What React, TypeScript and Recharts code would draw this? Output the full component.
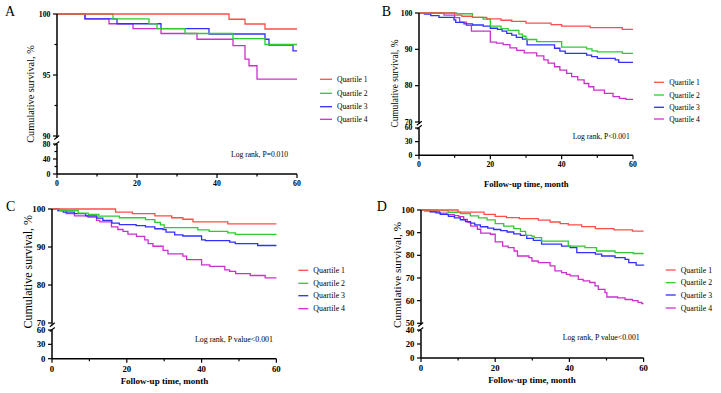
import React from 'react';
import { LineChart, Line, XAxis, YAxis } from 'recharts';

type P = [number, number][];

const quartileNames = ['Quartile 1', 'Quartile 2', 'Quartile 3', 'Quartile 4'];
const quartileColors = ['#FF4D4D', '#2ECC2E', '#3030FF', '#CC30CC'];
const monthTicks = [0, 10, 20, 30, 40, 50, 60];
const monthLabels = [0, 20, 40, 60];
const xTitle = 'Follow-up time, month';
const yTitle = 'Cumulative survival, %';

// ---- Panel A ----
const a_q1: P = [[0, 100], [43, 99.57], [47, 99.18], [52, 98.77], [60, 98.77]];
const a_q2: P = [[0, 100], [14, 99.6], [23, 99.2], [25, 98.8], [32, 98.4], [44, 97.98], [52, 97.5], [60, 97.5]];
const a_q3: P = [[0, 100], [7, 99.6], [15, 99.2], [26, 98.8], [38, 98.36], [52, 97.93], [53, 97.46], [59, 96.97], [60, 96.97]];
const a_q4: P = [[0, 100], [7, 99.6], [13, 99.2], [19, 98.8], [26, 98.4], [35, 97.93], [44, 97.4], [47, 96.3], [48, 95.76], [50, 94.67], [60, 94.67]];
const a_topTicks = [90, 92.5, 95, 97.5, 100];
const a_topLabels = [90, 95, 100];
const a_botTicks = [0, 20, 40, 60, 80];
const a_botLabels = [0, 40, 80];

// ---- Panel B ----
const b_q1: P = [[0, 100], [10, 99.4], [12, 99.1], [15, 98.8], [19, 98.4], [23, 98.0], [26, 97.7], [30, 97.2], [37, 96.8], [40, 96.4], [48, 96.0], [57, 95.5], [60, 95.5]];
const b_q2: P = [[0, 100], [10.5, 99.8], [15, 98.8], [18, 98.3], [20, 96.4], [23, 95.7], [25, 95.2], [28, 94.2], [29, 93.6], [30, 92.7], [33, 92.1], [40, 90.6], [47, 90.1], [48.5, 89.6], [50, 89.3], [57, 88.9], [60, 88.9]];
const b_q3: P = [[0, 100], [1.5, 99.7], [3.3, 99.3], [5.6, 98.8], [9.8, 98.1], [10.3, 97.4], [12.6, 97.0], [15, 96.7], [18, 96.4], [20, 95.8], [22, 95.5], [23.3, 95.0], [24.6, 94.4], [26, 93.9], [27.3, 93.3], [29, 92.8], [30.3, 91.2], [38, 90.3], [39.5, 89.5], [41, 88.9], [47, 88.4], [48.4, 88.0], [50, 87.5], [55, 87.1], [56, 86.4], [60, 86.4]];
const b_q4: P = [[0, 100], [7, 99.4], [10, 98.7], [11.4, 97.5], [13.3, 96.6], [14.7, 95.0], [20, 92.0], [21.7, 91.7], [23.6, 91.3], [25.5, 90.4], [27.4, 89.7], [29.5, 89.0], [33, 88.2], [35, 87.1], [36.2, 86.2], [38, 85.2], [39.5, 84.3], [41.4, 83.4], [42.8, 82.5], [44.5, 81.6], [46.3, 80.6], [47.6, 79.7], [49, 78.8], [52, 77.9], [54.4, 77.0], [56.2, 76.5], [58, 76.2], [60, 76.2]];
const b_topTicks = [70, 80, 90, 100];
const b_botTicks = [0, 30, 60];

// ---- Panel C ----
const c_q1: P = [[0, 100], [17, 99.2], [21.5, 98.8], [27.5, 98.2], [32, 97.7], [35, 97.3], [37.7, 96.6], [47, 96.1], [60, 96.1]];
const c_q2: P = [[0, 100], [2, 99.6], [7, 98.9], [9.7, 98.6], [12.5, 98.1], [18, 97.7], [25, 97.2], [27.5, 96.5], [29, 95.8], [30, 95.1], [39, 94.5], [42, 94.1], [47, 93.7], [49, 93.3], [60, 93.3]];
const c_q3: P = [[0, 100], [1.6, 99.6], [3, 99.2], [6, 98.8], [9, 98.2], [12, 97.6], [13.6, 97.0], [16, 96.3], [18, 95.9], [22.5, 95.6], [25, 95.3], [27.5, 94.8], [29.7, 94.6], [30.5, 93.9], [32.8, 93.2], [35, 92.9], [40, 91.9], [41, 91.7], [47.5, 91.3], [49, 90.9], [55, 90.4], [60, 90.4]];
const c_q4: P = [[0, 100], [1.6, 99.6], [3.8, 98.8], [6, 98.2], [9.6, 97.9], [11.9, 97.0], [12.8, 96.6], [15.9, 95.3], [17.6, 94.6], [19, 94.1], [20.3, 93.4], [22.6, 92.8], [24.8, 91.9], [25.7, 90.9], [27, 90.2], [29.7, 89.1], [31, 88.2], [35, 87.6], [36, 86.7], [40, 85.3], [42.2, 84.9], [46.2, 84.0], [47.5, 83.6], [49.1, 83.0], [53, 82.5], [57, 81.9], [60, 81.9]];
const c_topTicks = [70, 80, 90, 100];
const c_botTicks = [0, 30, 60];

// ---- Panel D ----
const d_q1: P = [[0, 100], [10, 99.1], [17, 98.1], [20, 97.2], [23, 96.6], [26.5, 96.2], [31.6, 95.5], [34.8, 94.7], [37.5, 94.0], [39.7, 93.4], [43.3, 92.7], [47, 91.8], [52, 91.2], [57, 90.7], [60, 90.7]];
const d_q2: P = [[0, 100], [4.3, 99.7], [7.3, 99.0], [10.6, 98.4], [13.3, 97.4], [15.5, 96.5], [17.8, 95.6], [20, 94.0], [22.3, 92.9], [25, 91.8], [26.8, 90.6], [28.2, 88.8], [29.8, 88.5], [30.5, 87.8], [32.5, 86.3], [39.7, 84.1], [44.2, 83.4], [47.3, 81.9], [52.3, 81.2], [57.2, 80.8], [60, 80.8]];
const d_q3: P = [[0, 100], [1, 99.6], [2.5, 99.2], [4, 98.7], [5.2, 98.1], [7.4, 97.2], [9, 96.5], [10.6, 95.7], [12, 94.9], [13.3, 94.2], [14.5, 93.4], [16, 92.6], [18, 92.0], [19.6, 91.4], [21.5, 90.9], [23.2, 90.3], [25, 89.5], [26.8, 88.8], [28.5, 87.5], [30.3, 86.6], [32.5, 84.9], [37.9, 84.1], [40.2, 83.4], [42, 81.2], [47, 80.5], [48.7, 79.7], [52.3, 79.0], [55, 78.2], [56, 76.8], [58, 75.7], [60, 75.5]];
const d_q4: P = [[0, 100], [2.5, 99.3], [5, 98.6], [7, 98.0], [9, 97.5], [10.2, 97.1], [11.5, 95.8], [12.5, 94.7], [13.4, 92.9], [15.2, 91.5], [16.1, 89.8], [18.7, 89.3], [20, 85.9], [22, 84.1], [23.5, 83.4], [25.1, 81.9], [26, 79.7], [29.1, 79.0], [29.9, 77.5], [31.6, 76.8], [34.8, 75.3], [36.1, 73.1], [37.9, 72.4], [39.2, 71.6], [40.2, 70.9], [42.4, 69.4], [43.7, 68.7], [45.5, 68.0], [46.9, 66.5], [47.8, 65.0], [49.6, 63.5], [50.1, 61.6], [53, 61.2], [55, 60.5], [57, 60.0], [58.5, 59.2], [59.5, 58.7], [60, 58.7]];
const d_topTicks = [50, 60, 70, 80, 90, 100];
const d_botTicks = [0, 20, 40];

const FONT = '"Liberation Serif", "DejaVu Serif", "Times New Roman", serif';

type Cfg = {
  letter: string; logText: string; showXTitle: boolean;
  series: P[];
  topDomain: [number, number]; topTicks: number[]; topLabels: number[];
  botDomain: [number, number]; botTicks: number[]; botLabels: number[];
  plotLeft: number; plotW: number; topY: number; topH: number; botTop: number; botH: number;
  legLineX: number; legLen: number; legTextX: number; legRows: number[];
  tickFs: number; legFs: number; yTitleFs: number; xTitleFs: number;
  yTitlePos: [number, number]; xTitleY: number; logPos: [number, number]; letterPos: [number, number];
};

const panels: Cfg[] = [
  {
    letter: 'A', logText: 'Log rank, P=0.010', showXTitle: false,
    series: [a_q1, a_q2, a_q3, a_q4],
    topDomain: [90, 100], topTicks: a_topTicks, topLabels: a_topLabels,
    botDomain: [0, 80], botTicks: a_botTicks, botLabels: a_botLabels,
    plotLeft: 56.7, plotW: 240, topY: 14, topH: 122, botTop: 144, botH: 30,
    legLineX: 320, legLen: 12, legTextX: 337, legRows: [79.3, 93.3, 106.7, 119.3],
    tickFs: 7.8, legFs: 7.6, yTitleFs: 10.3, xTitleFs: 8.7,
    yTitlePos: [30, 94], xTitleY: 190, logPos: [231, 154], letterPos: [5, 16],
  },
  {
    letter: 'B', logText: 'Log rank, P<0.001', showXTitle: true,
    series: [b_q1, b_q2, b_q3, b_q4],
    topDomain: [70, 100], topTicks: b_topTicks, topLabels: b_topTicks,
    botDomain: [0, 60], botTicks: b_botTicks, botLabels: b_botTicks,
    plotLeft: 419.3, plotW: 214, topY: 12.7, topH: 109, botTop: 127.7, botH: 27.3,
    legLineX: 654, legLen: 10, legTextX: 669.3, legRows: [82.3, 95, 107.3, 119],
    tickFs: 7.8, legFs: 7.6, yTitleFs: 9.3, xTitleFs: 8.7,
    yTitlePos: [395, 83.5], xTitleY: 184, logPos: [572.7, 136], letterPos: [381.7, 16],
  },
  {
    letter: 'C', logText: 'Log rank, P value<0.001', showXTitle: true,
    series: [c_q1, c_q2, c_q3, c_q4],
    topDomain: [70, 100], topTicks: c_topTicks, topLabels: c_topTicks,
    botDomain: [0, 60], botTicks: c_botTicks, botLabels: c_botTicks,
    plotLeft: 52.3, plotW: 224.4, topY: 209.3, topH: 114, botTop: 330, botH: 28.7,
    legLineX: 298.3, legLen: 10, legTextX: 313.3, legRows: [270.3, 283.3, 295.7, 308.7],
    tickFs: 8.8, legFs: 7.9, yTitleFs: 12, xTitleFs: 9,
    yTitlePos: [28.3, 271.7], xTitleY: 380.7, logPos: [195, 339], letterPos: [6, 211],
  },
  {
    letter: 'D', logText: 'Log rank, P value<0.001', showXTitle: true,
    series: [d_q1, d_q2, d_q3, d_q4],
    topDomain: [50, 100], topTicks: d_topTicks, topLabels: d_topTicks,
    botDomain: [0, 40], botTicks: d_botTicks, botLabels: d_botTicks,
    plotLeft: 420.7, plotW: 222.6, topY: 209.7, topH: 113.3, botTop: 330, botH: 28,
    legLineX: 665.7, legLen: 10, legTextX: 680.7, legRows: [270, 282.7, 295, 308],
    tickFs: 8.8, legFs: 7.8, yTitleFs: 11.2, xTitleFs: 9,
    yTitlePos: [397.3, 275], xTitleY: 380, logPos: [562.7, 337.7], letterPos: [376.7, 211],
  },
];

const TICK = 4;
const TMARGIN = 2.5;
const AXIS_W = 1.5;

const makeYTick = (labels: number[], fs: number) => (props: any) => {
  const { x, y, payload } = props;
  const v = payload.value;
  const major = labels.includes(v);
  const ax = x + TICK + TMARGIN;
  return (
    <g>
      <line x1={ax - (major ? TICK : 2.5)} x2={ax} y1={y} y2={y} stroke="#000" strokeWidth={1.2} />
      {major && (
        <text x={ax - TICK - TMARGIN} y={y} textAnchor="end" dominantBaseline="central"
          fontFamily={FONT} fontWeight="bold" fontSize={fs} fill="#000">{v}</text>
      )}
    </g>
  );
};

const makeXTick = (fs: number) => (props: any) => {
  const { x, y, payload } = props;
  const v = payload.value;
  const major = monthLabels.includes(v);
  const ay = y - TICK - TMARGIN;
  return (
    <g>
      <line x1={x} x2={x} y1={ay} y2={ay + (major ? TICK : 2.5)} stroke="#000" strokeWidth={1.2} />
      {major && (
        <text x={x} y={ay + TICK + TMARGIN} textAnchor="middle" dominantBaseline="hanging"
          fontFamily={FONT} fontWeight="bold" fontSize={fs} fill="#000">{v}</text>
      )}
    </g>
  );
};

const YW = 45;
const PADT = 8;
const PADB = 8;
const XH = 30;
const RIGHT = 10;

function Panel({ cfg }: { cfg: Cfg }) {
  const order = [3, 2, 1, 0];
  // lower (broken) segment of the axis: the same x range, y range below the break
  const lowerRange = [
    { t: 0, v: cfg.botDomain[0] },
    { t: 60, v: cfg.botDomain[1] },
  ];
  return (
    <>
      <div style={{ position: 'absolute', left: cfg.plotLeft - YW, top: cfg.botTop - PADT }}>
        <LineChart width={YW + cfg.plotW + RIGHT} height={cfg.botH + PADT + XH} data={lowerRange}
          margin={{ top: PADT, right: RIGHT, bottom: 0, left: 0 }}>
          <XAxis type="number" dataKey="t" domain={[0, 60]} ticks={monthTicks} interval={0} height={XH}
            tickLine={false} tickSize={TICK} tickMargin={TMARGIN}
            axisLine={{ stroke: '#000', strokeWidth: AXIS_W }} tick={makeXTick(cfg.tickFs)} />
          <YAxis type="number" dataKey="v" domain={cfg.botDomain} ticks={cfg.botTicks} interval={0} width={YW}
            tickLine={false} tickSize={TICK} tickMargin={TMARGIN}
            axisLine={{ stroke: '#000', strokeWidth: AXIS_W }} tick={makeYTick(cfg.botLabels, cfg.tickFs)} />
          <Line dataKey="v" stroke="none" dot={false} activeDot={false} isAnimationActive={false} legendType="none" />
        </LineChart>
      </div>
      <div style={{ position: 'absolute', left: cfg.plotLeft - YW, top: cfg.topY - PADT }}>
        <LineChart width={YW + cfg.plotW + RIGHT} height={cfg.topH + PADT + PADB}
          margin={{ top: PADT, right: RIGHT, bottom: PADB, left: 0 }}>
          <XAxis type="number" dataKey="t" domain={[0, 60]} hide />
          <YAxis type="number" domain={cfg.topDomain} ticks={cfg.topTicks} interval={0} width={YW}
            tickLine={false} tickSize={TICK} tickMargin={TMARGIN}
            axisLine={{ stroke: '#000', strokeWidth: AXIS_W }} tick={makeYTick(cfg.topLabels, cfg.tickFs)} />
          {order.map((i) => (
            <Line key={i} data={cfg.series[i].map(([t, s]) => ({ t, s }))} dataKey="s" type="stepAfter"
              stroke={quartileColors[i]} strokeWidth={1.3} dot={false} activeDot={false}
              isAnimationActive={false} name={quartileNames[i]} />
          ))}
        </LineChart>
      </div>
    </>
  );
}

function Overlay() {
  return (
    <svg width={721} height={393} style={{ position: 'absolute', left: 0, top: 0, pointerEvents: 'none' }}>
      {panels.map((cfg) => {
        const ax = cfg.plotLeft;
        const segBottom = cfg.topY + cfg.topH;
        return (
          <g key={cfg.letter} fontFamily={FONT} fill="#000">
            <text x={cfg.letterPos[0]} y={cfg.letterPos[1]} fontSize={14}>{cfg.letter}</text>
            <text transform={`translate(${cfg.yTitlePos[0]},${cfg.yTitlePos[1]}) rotate(-90)`}
              textAnchor="middle" dominantBaseline="central" fontSize={cfg.yTitleFs}>{yTitle}</text>
            {cfg.showXTitle && (
              <text x={cfg.plotLeft + cfg.plotW / 2} y={cfg.xTitleY} textAnchor="middle" dominantBaseline="central"
                fontSize={cfg.xTitleFs} fontWeight="bold">{xTitle}</text>
            )}
            <text x={cfg.logPos[0]} y={cfg.logPos[1]} dominantBaseline="central" fontSize={cfg.legFs}>{cfg.logText}</text>
            {/* axis break marks */}
            <line x1={ax} x2={ax} y1={segBottom} y2={segBottom + 2} stroke="#000" strokeWidth={AXIS_W} />
            <line x1={ax - 2.5} y1={segBottom + 3.5} x2={ax + 2.5} y2={segBottom - 0.5} stroke="#000" strokeWidth={1.1} />
            <line x1={ax - 2.5} y1={cfg.botTop + 1.5} x2={ax + 2.5} y2={cfg.botTop - 2.5} stroke="#000" strokeWidth={1.1} />
            {quartileNames.map((n, i) => (
              <g key={n}>
                <line x1={cfg.legLineX} x2={cfg.legLineX + cfg.legLen} y1={cfg.legRows[i]} y2={cfg.legRows[i]}
                  stroke={quartileColors[i]} strokeWidth={1.3} />
                <text x={cfg.legTextX} y={cfg.legRows[i]} dominantBaseline="central" fontSize={cfg.legFs}>{n}</text>
              </g>
            ))}
          </g>
        );
      })}
    </svg>
  );
}

export default function App() {
  return (
    <div style={{ position: 'absolute', left: 0, top: 0, width: 721, height: 393, background: '#fff', overflow: 'hidden' }}>
      {panels.map((cfg) => <Panel key={cfg.letter} cfg={cfg} />)}
      <Overlay />
    </div>
  );
}
